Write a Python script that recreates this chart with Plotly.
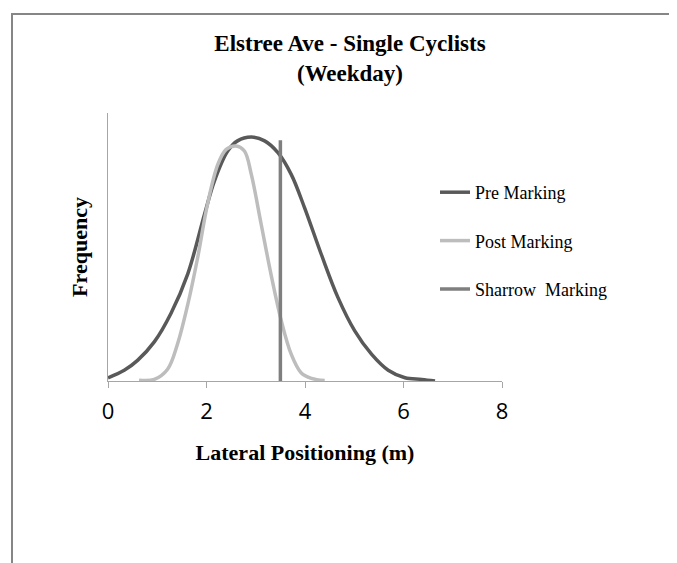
import plotly.graph_objects as go

# ---- data ----
pre_x = [0.00, 0.33, 0.60, 0.94, 1.28, 1.62, 1.96, 2.16, 2.43, 2.63, 2.91, 3.18,
         3.45, 3.72, 3.99, 4.33, 4.67, 5.01, 5.35, 5.69, 6.03, 6.37, 6.64]
pre_y = [0.012, 0.040, 0.077, 0.146, 0.253, 0.400, 0.622, 0.746, 0.858, 0.896,
         0.910, 0.896, 0.852, 0.771, 0.647, 0.473, 0.311, 0.187, 0.100, 0.040,
         0.012, 0.006, 0.000]

post_x = [0.63, 0.94, 1.21, 1.41, 1.62, 1.82, 2.02, 2.23, 2.40, 2.60, 2.77, 2.91,
          3.11, 3.31, 3.52, 3.72, 3.92, 4.13, 4.40]
post_y = [0.003, 0.006, 0.044, 0.137, 0.286, 0.460, 0.659, 0.808, 0.864, 0.877,
          0.858, 0.771, 0.585, 0.398, 0.224, 0.100, 0.031, 0.010, 0.002]

sharrow_x = [3.5, 3.5]
sharrow_y = [0.0, 0.898]

x_ticks = [0, 2, 4, 6, 8]
x_tick_labels = ["0", "2", "4", "6", "8"]

series_names = ["Pre Marking", "Post Marking", "Sharrow  Marking"]

# ---- figure (page body has an 8px margin, so the figure is 8px smaller) ----
W, H = 669, 555
L, R, T, B = 100, 175, 105, 182
pw = W - L - R
ph = H - T - B

def px_to_paper_x(px):
    return (px - L) / pw

def px_to_paper_y(py):
    return (H - B - py) / ph

serif = "Liberation Serif, Times New Roman, serif"

fig = go.Figure()
fig.add_trace(go.Scatter(x=pre_x, y=pre_y, mode="lines", name=series_names[0],
                         legendgroup="a",
                         line=dict(color="#595959", width=3.5, shape="spline", smoothing=1.0)))
fig.add_trace(go.Scatter(x=post_x, y=post_y, mode="lines", name=series_names[1],
                         legendgroup="b",
                         line=dict(color="#bdbdbd", width=3.5, shape="spline", smoothing=1.0)))
fig.add_trace(go.Scatter(x=sharrow_x, y=sharrow_y, mode="lines", name=series_names[2],
                         legendgroup="c",
                         line=dict(color="#7f7f7f", width=3.5)))

fig.update_layout(
    width=W, height=H,
    margin=dict(l=L, r=R, t=T, b=B, pad=0),
    paper_bgcolor="white", plot_bgcolor="white",
    title=dict(text="<b>Elstree Ave - Single Cyclists<br>(Weekday)</b>",
               x=342 / W, xanchor="center", y=1 - 43 / H, yanchor="top",
               font=dict(family=serif, size=23, color="black")),
    legend=dict(x=px_to_paper_x(427), xanchor="left",
                y=px_to_paper_y(166), yanchor="top",
                traceorder="grouped", tracegroupgap=22,
                font=dict(family=serif, size=18, color="black"),
                bgcolor="rgba(0,0,0,0)", itemwidth=30),
    showlegend=True,
    shapes=[dict(type="rect", xref="paper", yref="paper",
                 x0=px_to_paper_x(4), x1=px_to_paper_x(720),
                 y0=px_to_paper_y(620), y1=px_to_paper_y(6),
                 line=dict(color="#868686", width=2), fillcolor="rgba(0,0,0,0)",
                 layer="below")],
)

fig.update_xaxes(range=[0, 8], tickvals=x_ticks, ticktext=x_tick_labels,
                 showgrid=False, zeroline=False,
                 showline=True, linecolor="#a6a6a6", linewidth=1,
                 ticks="outside", ticklen=6, tickcolor="#a6a6a6", tickwidth=1,
                 ticklabelstandoff=5,
                 tickfont=dict(family="Open Sans, sans-serif", size=22, color="black"),
                 title=dict(text="<b>Lateral Positioning (m)</b>", standoff=20,
                            font=dict(family=serif, size=22, color="black")))
fig.update_yaxes(range=[0, 1], showgrid=False, zeroline=False,
                 showline=True, linecolor="#a6a6a6", linewidth=1,
                 showticklabels=False, ticks="",
                 title=dict(text="<b>Frequency</b>", standoff=13,
                            font=dict(family=serif, size=22, color="black")))

fig.write_html("out.html")
